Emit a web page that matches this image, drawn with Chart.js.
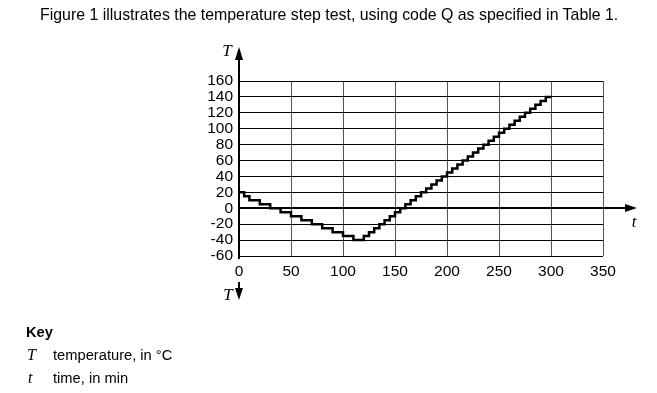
<!DOCTYPE html>
<html>
<head>
<meta charset="utf-8">
<script src="https://cdn.jsdelivr.net/npm/chart.js@4.4.1/dist/chart.umd.min.js"></script>
<style>
    body { margin: 0; background: #fff; font-family: "Liberation Sans", Arial, sans-serif; }
    #wrap { position: relative; width: 657px; height: 393px; overflow: hidden; }
    canvas { position: absolute; left: 0; top: 0; }
    .txt { position: absolute; font-size: 14.7px; line-height: 16px; color: #000; white-space: nowrap; }
    .sym { font-family: "Liberation Serif", "Times New Roman", serif; font-style: italic; font-size: 16px; }
</style>
</head>
<body>
<div id="wrap">
    <canvas id="chart" width="657" height="393"></canvas>
    <div class="txt" style="left:40px;top:6px;font-size:15.9px;line-height:18px">Figure 1 illustrates the temperature step test, using code Q as specified in Table 1.</div>
    <div class="txt" style="left:26px;top:324px;font-weight:bold">Key</div>
    <div class="txt sym" style="left:27px;top:347px">T</div>
    <div class="txt" style="left:53px;top:347px">temperature, in °C</div>
    <div class="txt sym" style="left:28px;top:370px">t</div>
    <div class="txt" style="left:53px;top:370px">time, in min</div>
</div>
<script>
// step start times (min) and the temperature held from that time (°C)
const times = [0, 5, 10, 20, 30, 40, 50, 60, 70, 80, 90, 100, 110,
    120, 125, 130, 135, 140, 145, 150, 155, 160, 165, 170, 175, 180, 185, 190, 195,
    200, 205, 210, 215, 220, 225, 230, 235, 240, 245, 250, 255, 260, 265, 270, 275,
    280, 285, 290, 295, 300];
const temps = [20, 15, 10, 5, 0, -5, -10, -15, -20, -25, -30, -35, -40,
    -35, -30, -25, -20, -15, -10, -5, 0, 5, 10, 15, 20, 25, 30, 35, 40,
    45, 50, 55, 60, 65, 70, 75, 80, 85, 90, 95, 100, 105, 110, 115, 120,
    125, 130, 135, 140, 140];

const xTicks = [0, 50, 100, 150, 200, 250, 300, 350];
const yTicks = [-60, -40, -20, 0, 20, 40, 60, 80, 100, 120, 140, 160];

const points = times.map((t, i) => ({ x: t, y: temps[i] }));

// arrows and axis letters
const axisArrows = {
    id: 'axisArrows',
    afterDraw(chart) {
        const { ctx, chartArea: a, scales: { y } } = chart;
        const y0 = Math.round(y.getPixelForValue(0));
        const x0 = a.left;
        ctx.save();
        ctx.strokeStyle = '#000';
        ctx.fillStyle = '#000';
        ctx.lineWidth = 2;

        // vertical axis with arrow up
        ctx.beginPath();
        ctx.moveTo(x0, 56);
        ctx.lineTo(x0, a.bottom + 3);
        ctx.stroke();
        ctx.beginPath();
        ctx.moveTo(x0, 47);
        ctx.lineTo(x0 - 4, 60);
        ctx.lineTo(x0 + 4, 60);
        ctx.closePath();
        ctx.fill();

        // arrow down under the axis
        ctx.beginPath();
        ctx.moveTo(x0, 282);
        ctx.lineTo(x0, 292);
        ctx.stroke();
        ctx.beginPath();
        ctx.moveTo(x0, 300);
        ctx.lineTo(x0 - 4, 288);
        ctx.lineTo(x0 + 4, 288);
        ctx.closePath();
        ctx.fill();

        // time axis arrow
        ctx.beginPath();
        ctx.moveTo(a.right, y0);
        ctx.lineTo(628, y0);
        ctx.stroke();
        ctx.beginPath();
        ctx.moveTo(637, y0);
        ctx.lineTo(625, y0 - 4);
        ctx.lineTo(625, y0 + 4);
        ctx.closePath();
        ctx.fill();

        ctx.font = 'italic 17px "Liberation Serif", "Times New Roman", serif';
        ctx.textAlign = 'center';
        ctx.textBaseline = 'middle';
        ctx.fillText('T', 227, 52);
        ctx.fillText('T', 228, 296);
        ctx.fillText('t', 634, 223);
        ctx.restore();
    }
};

new Chart(document.getElementById('chart'), {
    type: 'line',
    data: {
        datasets: [{
            data: points,
            stepped: 'before',
            borderColor: '#000',
            borderWidth: 2.5,
            pointRadius: 0,
            fill: false
        }]
    },
    options: {
        responsive: false,
        animation: false,
        layout: { padding: { left: 0, right: 54, top: 81, bottom: 97 } },
        plugins: { legend: { display: false }, tooltip: { enabled: false } },
        scales: {
            x: {
                type: 'linear',
                min: 0,
                max: 350,
                afterFit(scale) { scale.height = 40; },
                afterBuildTicks(scale) { scale.ticks = xTicks.map(v => ({ value: v })); },
                ticks: { autoSkip: false, maxRotation: 0, color: '#000', padding: 6,
                    font: { family: '"Liberation Sans", Arial, sans-serif', size: 15.5 } },
                grid: { color: '#555', lineWidth: 1, drawTicks: false },
                border: { display: false }
            },
            y: {
                min: -60,
                max: 160,
                afterFit(scale) { scale.width = 239; },
                afterBuildTicks(scale) { scale.ticks = yTicks.map(v => ({ value: v })); },
                ticks: { autoSkip: false, color: '#000', padding: 6,
                    font: { family: '"Liberation Sans", Arial, sans-serif', size: 15.5 } },
                grid: {
                    color: '#000',
                    lineWidth: c => (c.tick && c.tick.value === 0 ? 2 : 1),
                    drawTicks: false
                },
                border: { display: false }
            }
        }
    },
    plugins: [axisArrows]
});
</script>
</body>
</html>
